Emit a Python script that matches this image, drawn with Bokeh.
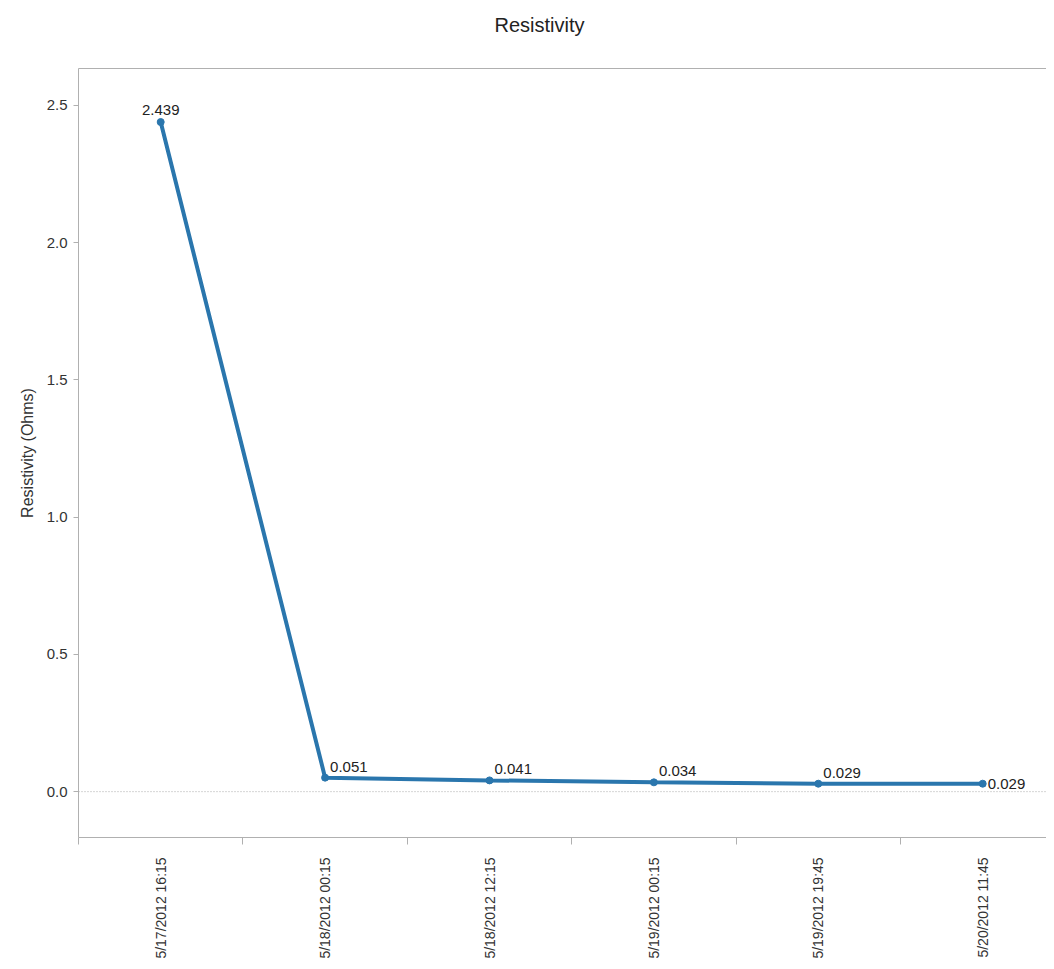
import math
from bokeh.plotting import figure
from bokeh.models import (Range1d, FixedTicker, LinearAxis, Span, ColumnDataSource,
                          PrintfTickFormatter)
from bokeh.core.properties import value
from bokeh.embed import file_html
from bokeh.resources import INLINE

# ---- data ----
title_text = "Resistivity"
times = ["5/17/2012  16:15", "5/18/2012  00:15", "5/18/2012  12:15",
         "5/19/2012  00:15", "5/19/2012  19:45", "5/20/2012  11:45"]
resistivity = [2.439, 0.051, 0.041, 0.034, 0.029, 0.029]
value_labels = ["2.439", "0.051", "0.041", "0.034", "0.029", "0.029"]
y_ticks = [0.0, 0.5, 1.0, 1.5, 2.0, 2.5]

# ---- styles ----
FONT = "Liberation Sans"
LINE_COLOR = "#2a76ad"
TEXT_COLOR = "#333333"
AXIS_COLOR = "#b0b0b0"
FS = "15px"

idx = list(range(len(times)))
# label placement styles per point
lab_dx = [0, 5, 5, 5, 5, 5]
lab_dy = [-7, -6, -6, -6, -6, 0]
lab_align = ["center", "left", "left", "left", "left", "left"]
lab_base = ["bottom", "bottom", "bottom", "bottom", "bottom", "middle"]

W, H = 1046, 961
LEFT, TOP, BOTTOM = 78, 68, 122
p = figure(width=W, height=H, output_backend="svg", toolbar_location=None,
           title=title_text, x_axis_type=None, y_axis_type=None,
           x_range=Range1d(-0.5, -0.5 + (W - LEFT) / 164.4), y_range=Range1d(-0.167, 2.634),
           min_border_left=LEFT, min_border_right=0, min_border_top=TOP, min_border_bottom=BOTTOM)
p.outline_line_color = None
p.grid.visible = False
p.background_fill_color = "white"
p.border_fill_color = "white"

p.title.align = "left"
p.title.offset = 416
p.title.standoff = 10
p.title.text_font = FONT
p.title.text_font_size = "20px"
p.title.text_font_style = "normal"
p.title.text_color = "#222222"

# y axis
yax = LinearAxis(ticker=FixedTicker(ticks=y_ticks), formatter=PrintfTickFormatter(format="%.1f"))
yax.axis_label = "Resistivity (Ohms)"
yax.axis_label_text_font = FONT
yax.axis_label_text_font_size = "16px"
yax.axis_label_text_font_style = "normal"
yax.axis_label_text_color = TEXT_COLOR
yax.axis_label_standoff = 8
yax.major_label_text_font = FONT
yax.major_label_text_font_size = FS
yax.major_label_text_color = TEXT_COLOR
yax.major_label_standoff = 6
yax.axis_line_color = AXIS_COLOR
yax.major_tick_line_color = AXIS_COLOR
yax.major_tick_in = 0
yax.major_tick_out = 5
yax.minor_tick_line_color = None
p.add_layout(yax, "left")

# x axis: labels at category centers, tick marks at category boundaries
xax = LinearAxis(ticker=FixedTicker(ticks=idx, minor_ticks=[i - 0.5 for i in range(len(times) + 1)]))
xax.major_label_overrides = {i: t for i, t in enumerate(times)}
xax.major_label_orientation = math.pi / 2
xax.major_label_text_font = FONT
xax.major_label_text_font_size = "14px"
xax.major_label_text_color = TEXT_COLOR
xax.major_label_standoff = 9
xax.axis_line_color = AXIS_COLOR
xax.major_tick_line_color = None
xax.major_tick_out = 0
xax.major_tick_in = 0
xax.minor_tick_line_color = AXIS_COLOR
xax.minor_tick_in = 0
xax.minor_tick_out = 7
p.add_layout(xax, "below")

# top border line; an invisible tick spaces the title away from the plot area
top = LinearAxis(ticker=FixedTicker(ticks=[0]))
top.major_label_overrides = {0: ""}
top.axis_line_color = AXIS_COLOR
top.major_tick_line_color = None
top.minor_tick_line_color = None
top.major_tick_in = 0
top.major_tick_out = 28
top.major_label_standoff = 0
top.major_label_text_font_size = "0px"
p.add_layout(top, "above")

# zero line
p.add_layout(Span(location=0, dimension="width", line_color="#aaaaaa",
                  line_dash="1 2", line_width=1))

src = ColumnDataSource(dict(x=idx, y=resistivity, lab=value_labels, dx=lab_dx, dy=lab_dy,
                            al=lab_align, bl=lab_base))
p.line("x", "y", source=src, line_color=LINE_COLOR, line_width=4)
p.scatter("x", "y", source=src, size=7, fill_color=LINE_COLOR, line_color=LINE_COLOR)
p.text("x", "y", text="lab", source=src, x_offset="dx", y_offset="dy",
       text_align="al", text_baseline="bl", text_font=value(FONT),
       text_font_size=FS, text_color="#222222")

open("out.html", "w").write(file_html(p, INLINE))
